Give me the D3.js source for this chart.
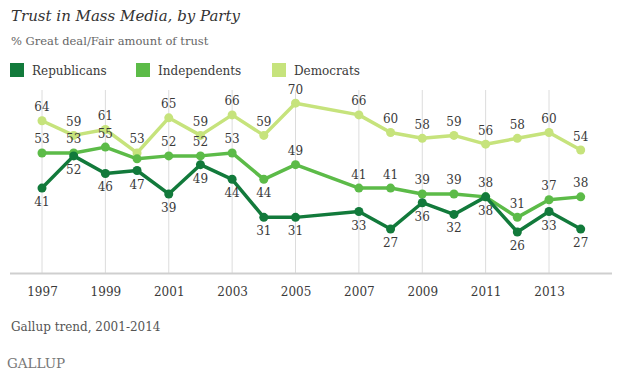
<!DOCTYPE html>
<html>
<head>
<meta charset="utf-8">
<script src="https://cdn.jsdelivr.net/npm/d3@7"></script>
<style>
  html, body { margin: 0; padding: 0; background: #fff; }
  svg { display: block; }
  text { font-family: "DejaVu Serif", "Liberation Serif", serif; }
</style>
</head>
<body>
<svg id="chart" width="620" height="378"></svg>
<script>
// ---- Data ----
const years = [1997, 1998, 1999, 2000, 2001, 2002, 2003, 2004, 2005, 2007, 2008, 2009, 2010, 2011, 2012, 2013, 2014];
const republicans  = [41, 52, 46, 47, 39, 49, 44, 31, 31, 33, 27, 36, 32, 38, 26, 33, 27];
const independents = [53, 53, 55, 51, 52, 52, 53, 44, 49, 41, 41, 39, 39, 38, 31, 37, 38];
const democrats    = [64, 59, 61, 53, 65, 59, 66, 59, 70, 66, 60, 58, 59, 56, 58, 60, 54];
// label placement: 1 = above, -1 = below, 0 = none
const repLabelPos  = [-1,-1,-1,-1,-1,-1,-1,-1,-1,-1,-1,-1,-1,-1,-1,-1,-1];
const indLabelPos  = [1, 1, 1, 0, 1, 1, 1, -1, 1, 1, 1, 1, 1, 1, 1, 1, 1];
const demLabelPos  = [1, 1, 1, 1, 1, 1, 1, 1, 1, 1, 1, 1, 1, 1, 1, 1, 1];
const tickYears = [1997, 1999, 2001, 2003, 2005, 2007, 2009, 2011, 2013];
const seriesNames = ["Republicans", "Independents", "Democrats"];
const seriesColors = ["#127a3b", "#5cbb48", "#c6e37c"];

const series = [
  { name: seriesNames[0], values: republicans, pos: repLabelPos, color: seriesColors[0] },
  { name: seriesNames[1], values: independents, pos: indLabelPos, color: seriesColors[1] },
  { name: seriesNames[2], values: democrats, pos: demLabelPos, color: seriesColors[2] }
];

const svg = d3.select("#chart");

// ---- Scales ----
const x = d3.scaleLinear().domain([1997, 2014]).range([42, 580.7]);
const y = d3.scaleLinear().domain([12, 74.5]).range([273, 90]);

// ---- Titles ----
svg.append("text").attr("x", 11).attr("y", 21)
  .attr("font-size", 15).attr("font-style", "italic").attr("fill", "#333")
  .text("Trust in Mass Media, by Party");
svg.append("text").attr("x", 11).attr("y", 45)
  .attr("font-size", 11.5).attr("fill", "#666")
  .text("% Great deal/Fair amount of trust");

// ---- Legend ----
const legendX = [10, 136, 272];
const lg = svg.append("g");
series.forEach((s, i) => {
  lg.append("rect").attr("x", legendX[i]).attr("y", 63).attr("width", 14).attr("height", 14).attr("fill", s.color);
  lg.append("text").attr("x", legendX[i] + 22).attr("y", 74.5)
    .attr("font-size", 12).attr("fill", "#3a3a3a").text(s.name);
});

// ---- Grid (vertical lines at tick years) ----
svg.append("g").selectAll("line").data(tickYears).join("line")
  .attr("x1", d => x(d)).attr("x2", d => x(d))
  .attr("y1", y(74.5)).attr("y2", y(12))
  .attr("stroke", "#dcdcdc").attr("stroke-width", 1);

// ---- X axis ----
const xAxis = d3.axisBottom(x).tickValues(tickYears).tickFormat(d3.format("d")).tickSize(0).tickPadding(14);
const gx = svg.append("g").attr("transform", `translate(0,${y(12)})`).call(xAxis);
gx.select(".domain").remove();
gx.selectAll("text").attr("font-size", 12).attr("fill", "#3a3a3a").attr("font-family", "DejaVu Serif, serif");
svg.append("line").attr("x1", 10).attr("x2", 612).attr("y1", y(12) + 0.5).attr("y2", y(12) + 0.5)
  .attr("stroke", "#cfcfcf").attr("stroke-width", 2);

// ---- Lines ----
const line = d3.line().x((d, i) => x(years[i])).y(d => y(d));
[2, 1, 0].forEach(si => {
  const s = series[si];
  const g = svg.append("g");
  g.append("path").datum(s.values).attr("d", line)
    .attr("fill", "none").attr("stroke", s.color).attr("stroke-width", 3.5)
    .attr("stroke-linejoin", "round");
  g.selectAll("circle").data(s.values).join("circle")
    .attr("cx", (d, i) => x(years[i])).attr("cy", d => y(d)).attr("r", 4.5)
    .attr("fill", s.color);
});

// ---- Data labels ----
[2, 1, 0].forEach(si => {
  const s = series[si];
  svg.append("g").selectAll("text").data(s.values.map((v, i) => ({ v, i, p: s.pos[i] })).filter(d => d.p !== 0))
    .join("text")
    .attr("x", d => x(years[d.i]))
    .attr("y", d => d.p > 0 ? y(d.v) - 9.5 : y(d.v) + 18)
    .attr("text-anchor", "middle")
    .attr("font-size", 12).attr("fill", "#3a3a3a")
    .text(d => d.v);
});

// ---- Footer ----
svg.append("text").attr("x", 11).attr("y", 331)
  .attr("font-size", 12).attr("fill", "#555").text("Gallup trend, 2001-2014");
svg.append("text").attr("x", 7).attr("y", 368)
  .attr("font-size", 13.5).attr("fill", "#777").text("GALLUP");
</script>
</body>
</html>
